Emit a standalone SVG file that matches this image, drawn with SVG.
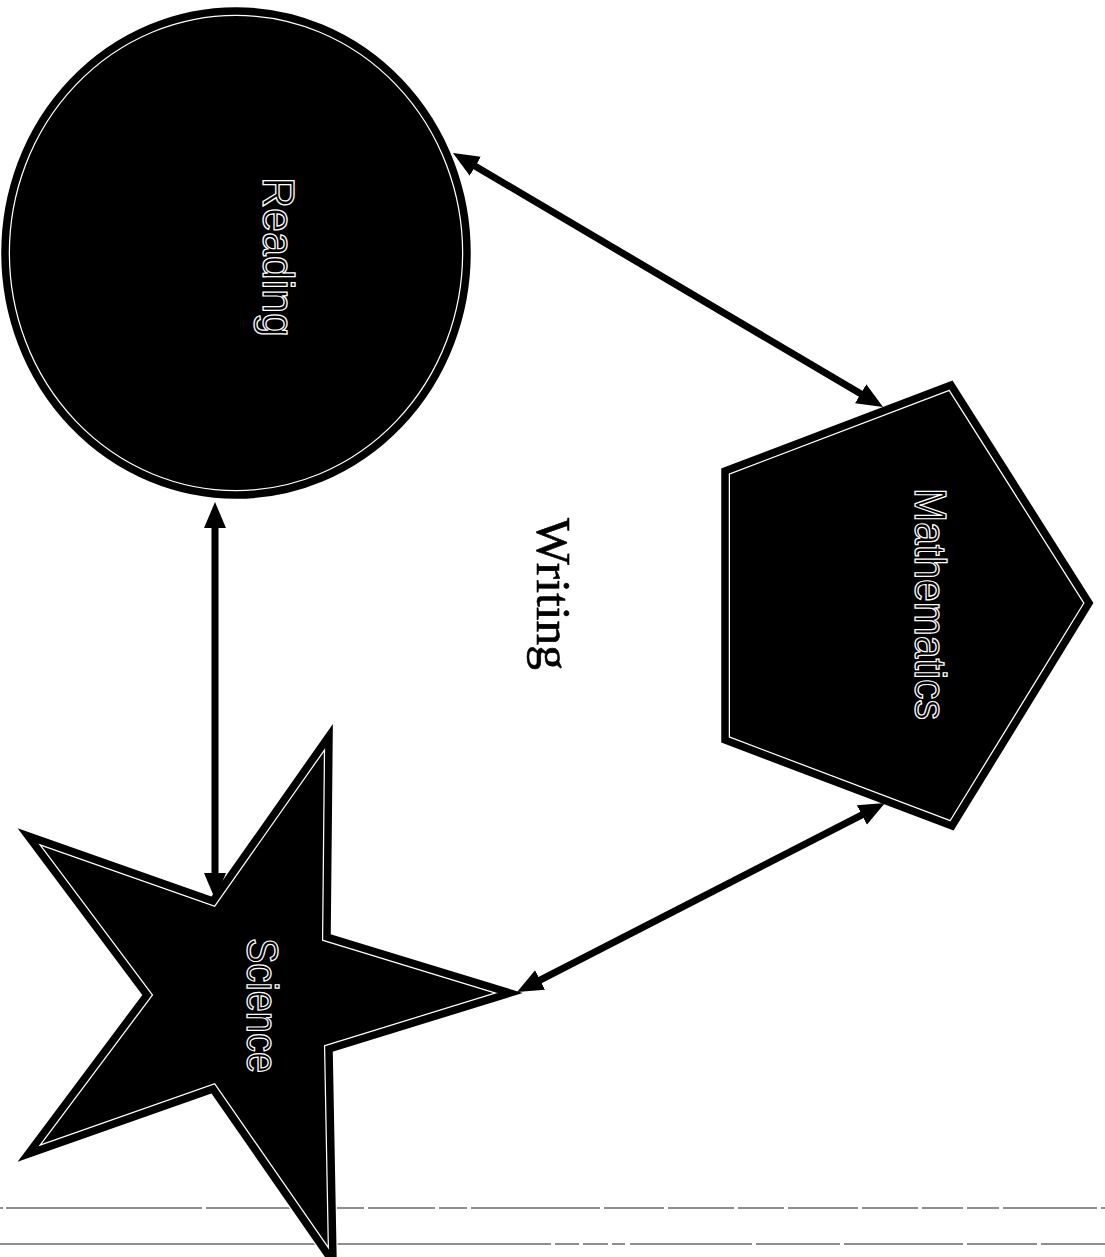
<svg xmlns="http://www.w3.org/2000/svg" width="1105" height="1257" viewBox="0 0 1105 1257">
<style>
.halo{fill:#000;stroke:#fff;stroke-width:10;stroke-linejoin:miter}
.edge{fill:none;stroke:#000;stroke-width:7.5;stroke-linejoin:miter}
.lbl{font-family:"Liberation Sans",Arial,sans-serif;font-size:45px;fill:#000;stroke:#fff;stroke-width:1.3}
.conn{stroke:#000;stroke-width:7;fill:none;marker-start:url(#ah);marker-end:url(#ah)}
.rule{stroke:#6a6a6a;stroke-width:1.6;fill:none}
</style>
<defs>
<marker id="ah" markerUnits="userSpaceOnUse" markerWidth="28" markerHeight="24" refX="4" refY="11" orient="auto-start-reverse">
<path d="M0,0 L26,11 L0,22 Z" fill="#000"/>
</marker>
</defs>
<rect width="1105" height="1257" fill="#fff"/>
<g id="rules">
<path class="rule" d="M0,1208H3M6,1208H202M206,1208H364M368,1208H435M439,1208H467M471,1208H600M604,1208H664M668,1208H734M738,1208H784M788,1208H858M862,1208H918M922,1208H963M967,1208H999M1003,1208H1097M1101,1208H1105"/>
<path class="rule" d="M0,1244H551M555,1244H579M583,1244H608M612,1244H625M630,1244H752M756,1244H840M844,1244H963M967,1244H1037M1041,1244H1105"/>
</g>
<g id="reading">
<ellipse class="halo" cx="236" cy="253" rx="231" ry="242"/>
<ellipse class="edge" cx="236" cy="253" rx="231" ry="242"/>
<text class="lbl" transform="translate(263,177) rotate(90)" textLength="160" lengthAdjust="spacingAndGlyphs">Reading</text>
</g>
<g id="mathematics">
<polygon class="halo" points="725,471 951,385 1089,603 952,826 725,740"/>
<polygon class="edge" points="725,471 951,385 1089,603 952,826 725,740"/>
<text class="lbl" transform="translate(915,488) rotate(90)" textLength="232" lengthAdjust="spacingAndGlyphs">Mathematics</text>
</g>
<g id="science">
<polygon class="halo" points="329,736 327,937 510,993 329,1049 333,1262 213,1089 28,1154 147,995 28,836 213,901"/>
<polygon class="edge" points="329,736 327,937 510,993 329,1049 333,1262 213,1089 28,1154 147,995 28,836 213,901"/>
<text class="lbl" transform="translate(247,938) rotate(90)" textLength="135" lengthAdjust="spacingAndGlyphs">Science</text>
</g>
<g id="writing">
<text transform="translate(537,518) rotate(90)" font-family="'Liberation Serif','Times New Roman',serif" font-size="49" fill="#000" stroke="#000" stroke-width="0.6" textLength="152" lengthAdjust="spacingAndGlyphs">Writing</text>
</g>
<g id="connectors">
<line class="conn" x1="471.9" y1="164.2" x2="864.1" y2="395.8"/>
<line class="conn" x1="215" y1="524" x2="215" y2="877"/>
<line class="conn" x1="536.6" y1="981.9" x2="865.4" y2="813.1"/>
</g>
</svg>
